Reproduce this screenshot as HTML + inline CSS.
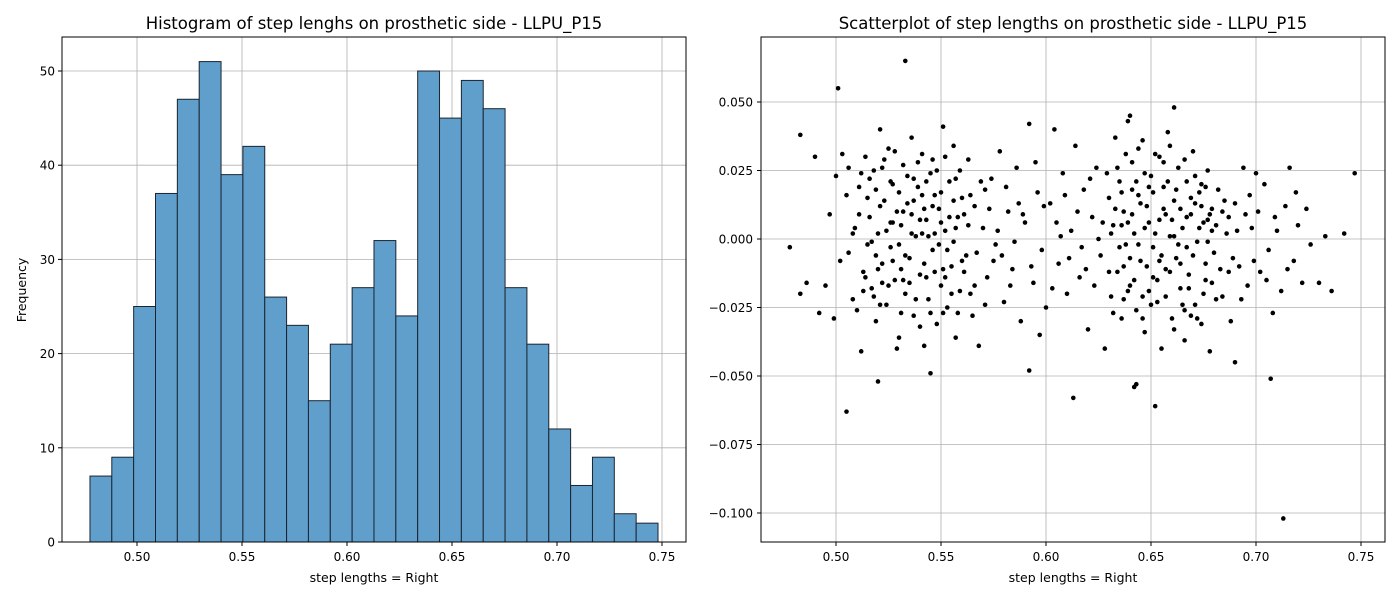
<!DOCTYPE html>
<html><head><meta charset="utf-8">
<style>
body{margin:0;background:#fff;}
svg{display:block;font-family:"DejaVu Sans","Liberation Sans",sans-serif;}
</style></head>
<body>
<svg id="fig" width="1400" height="600" viewBox="0 0 1400 600" xmlns="http://www.w3.org/2000/svg">
<rect width="1400" height="600" fill="#fff"/>
<g id="hist"></g>
<g id="scat"></g>
</svg>
<script>
const histCounts=[7,9,25,37,47,51,39,42,26,23,15,21,27,32,24,50,45,49,46,27,21,12,6,9,3,2];
const histMin=0.4776, histMax=0.7481;
const xTickLabels=["0.50","0.55","0.60","0.65","0.70","0.75"];
const xTickValues=[0.50,0.55,0.60,0.65,0.70,0.75];
const histYTicks=[0,10,20,30,40,50];
const scatYTicks=[0.05,0.025,0,-0.025,-0.05,-0.075,-0.1];
const scatYLabels=["0.050","0.025","0.000","−0.025","−0.050","−0.075","−0.100"];
const scatterPoints=[
[0.533,0.065],[0.501,0.055],[0.505,-0.063],[0.713,-0.102],[0.707,-0.051],[0.613,-0.058],[0.652,-0.061],[0.520,-0.052],[0.545,-0.049],[0.592,-0.048],[0.747,0.024],[0.478,-0.003],[0.483,0.038],[0.661,0.048],[0.640,0.045],[0.690,-0.045],[0.643,-0.053],[0.642,-0.054],
[0.483,-0.020],[0.486,-0.016],[0.490,0.030],[0.492,-0.027],[0.495,-0.017],[0.497,0.009],[0.499,-0.029],[0.500,0.023],[0.502,-0.008],[0.503,0.031],[0.505,0.016],[0.506,-0.005],[0.508,-0.022],[0.509,0.004],[0.511,0.019],[0.512,-0.041],[0.513,-0.012],[0.514,0.030],[0.516,0.008],[0.517,-0.018],[0.518,0.025],[0.519,-0.030],[0.520,0.002],[0.521,0.040],[0.522,-0.009],[0.523,0.014],[0.524,-0.024],[0.525,0.033],[0.526,-0.003],[0.527,0.020],[0.528,-0.015],[0.529,0.010],[0.530,-0.036],[0.531,0.005],[0.532,0.027],[0.533,-0.020],[0.534,0.013],[0.535,-0.007],[0.536,0.037],[0.537,-0.028],[0.538,0.001],[0.539,0.019],[0.540,-0.013],[0.541,0.031],[0.542,-0.039],[0.543,0.007],[0.544,-0.022],[0.545,0.024],[0.546,-0.004],[0.547,0.016],[0.548,-0.031],[0.549,0.011],[0.550,-0.017],[0.551,0.041],[0.552,0.003],[0.553,-0.025],[0.554,0.021],[0.555,-0.010],[0.556,0.034],[0.557,-0.036],[0.558,0.008],[0.559,-0.019],[0.560,0.015],[0.562,-0.006],[0.563,0.029],[0.565,-0.028],[0.566,0.012],[0.568,-0.039],[0.570,0.004],[0.572,-0.014],[0.574,0.022],[0.576,-0.002],[0.578,0.032],[0.580,-0.023],[0.582,0.010],[0.584,-0.011],[0.586,0.026],[0.588,-0.030],[0.590,0.006],[0.592,0.042],[0.594,-0.016],[0.596,0.017],[0.598,-0.004],
[0.600,-0.025],[0.602,0.013],[0.604,0.040],[0.606,-0.009],[0.608,0.024],[0.610,-0.020],[0.612,0.003],[0.614,0.034],[0.616,-0.014],[0.618,0.018],[0.620,-0.033],[0.622,0.008],[0.624,0.026],[0.626,-0.006],[0.628,-0.040],[0.630,0.015],[0.631,-0.021],[0.632,0.005],[0.633,0.037],[0.634,-0.012],[0.635,0.021],[0.636,-0.029],[0.637,0.010],[0.638,-0.002],[0.639,0.043],[0.640,-0.017],[0.641,0.028],[0.642,0.002],[0.643,-0.026],[0.644,0.016],[0.645,-0.008],[0.646,0.036],[0.647,-0.034],[0.648,0.012],[0.649,-0.019],[0.650,0.023],[0.651,-0.003],[0.652,0.031],[0.653,-0.023],[0.654,0.007],[0.655,-0.040],[0.656,0.019],[0.657,-0.011],[0.658,0.039],[0.659,0.001],[0.660,-0.029],[0.661,0.014],[0.662,-0.007],[0.663,0.026],[0.664,-0.018],[0.665,0.004],[0.666,-0.037],[0.667,0.021],[0.668,-0.013],[0.669,0.009],[0.670,0.032],[0.671,-0.024],[0.672,-0.001],[0.673,0.017],[0.674,-0.031],[0.675,0.006],[0.676,-0.015],[0.677,0.025],[0.678,-0.041],[0.679,0.011],[0.680,-0.005],[0.682,0.018],[0.684,-0.021],[0.686,0.002],[0.688,-0.030],[0.690,0.013],[0.692,-0.010],[0.694,0.026],[0.696,-0.017],[0.698,0.004],[0.700,0.024],[0.702,-0.012],[0.704,0.020],[0.706,-0.004],[0.708,-0.027],[0.710,0.003],[0.712,-0.019],[0.714,0.012],[0.716,0.026],[0.718,-0.008],[0.720,0.005],[0.722,-0.016],[0.724,0.011],[0.726,-0.002],[0.730,-0.016],[0.733,0.001],[0.736,-0.019],[0.742,0.002],
[0.515,-0.002],[0.522,0.026],[0.529,-0.040],[0.536,0.009],[0.543,-0.014],[0.550,0.006],[0.557,0.022],[0.564,-0.020],[0.571,0.018],[0.579,-0.006],[0.587,0.013],[0.597,-0.035],[0.607,0.001],[0.617,-0.003],[0.627,0.006],[0.637,-0.010],[0.647,0.004],[0.657,0.009],[0.667,-0.003],[0.677,0.007],[0.687,-0.012],[0.697,0.016],[0.521,0.012],[0.531,-0.011],[0.541,0.002],[0.551,-0.027],[0.561,0.009],[0.641,0.018],[0.651,-0.014],[0.661,0.001],[0.671,0.013],[0.681,-0.022],[0.526,0.006],[0.546,0.029],[0.556,-0.001],[0.636,0.005],[0.646,-0.021],[0.656,0.028],[0.666,-0.026],[0.676,-0.009],
[0.510,-0.026],[0.511,0.009],[0.512,0.024],[0.514,-0.014],[0.515,0.015],[0.517,-0.001],[0.518,-0.021],[0.519,0.018],[0.520,-0.011],[0.521,-0.024],[0.523,0.029],[0.524,0.003],[0.525,-0.017],[0.526,0.021],[0.527,-0.008],[0.528,0.032],[0.530,-0.002],[0.530,0.017],[0.531,-0.027],[0.532,0.010],[0.533,-0.006],[0.534,0.023],[0.535,-0.016],[0.536,0.002],[0.537,0.014],[0.538,-0.022],[0.539,0.028],[0.540,0.007],[0.540,-0.032],[0.541,0.016],[0.542,-0.009],[0.543,0.021],[0.544,0.001],[0.545,-0.027],[0.546,0.012],[0.547,-0.012],[0.548,0.025],[0.549,-0.002],[0.550,0.017],[0.551,-0.011],[0.552,0.030],[0.553,-0.004],[0.554,0.008],[0.555,-0.020],[0.556,0.014],[0.557,0.004],[0.558,-0.027],[0.559,0.025],[0.561,-0.012],[0.563,0.005],[0.564,0.016],[0.567,-0.005],[0.569,0.021],[0.571,-0.024],[0.573,0.011],[0.575,-0.008],[0.577,0.003],[0.581,0.019],[0.583,-0.017],[0.585,-0.001],[0.589,0.009],[0.593,-0.010],[0.595,0.028],[0.599,0.012],[0.603,-0.018],[0.605,0.006],[0.609,0.016],[0.611,-0.007],[0.615,0.010],[0.619,-0.011],[0.621,0.022],[0.623,-0.017],[0.625,0.000],[0.629,0.024],[0.630,-0.012],[0.632,-0.027],[0.633,0.011],[0.634,0.026],[0.635,-0.003],[0.636,0.017],[0.637,-0.022],[0.638,0.031],[0.639,0.006],[0.640,-0.007],[0.641,0.009],[0.642,-0.015],[0.643,0.021],[0.644,-0.002],[0.645,0.013],[0.646,-0.029],[0.647,0.024],[0.648,-0.010],[0.649,0.006],[0.650,-0.024],[0.651,0.017],[0.652,0.002],[0.653,-0.015],[0.654,0.030],[0.655,-0.006],[0.656,0.011],[0.657,-0.021],[0.658,0.021],[0.659,-0.012],[0.660,0.007],[0.661,-0.033],[0.662,0.018],[0.663,-0.002],[0.664,0.011],[0.665,-0.024],[0.666,0.029],[0.667,0.008],[0.668,-0.018],[0.669,0.015],[0.670,-0.006],[0.671,0.023],[0.672,-0.029],[0.673,0.004],[0.674,0.012],[0.675,-0.020],[0.676,0.019],[0.677,-0.001],[0.678,0.009],[0.679,-0.016],[0.681,0.005],[0.683,-0.011],[0.685,0.014],[0.687,0.008],[0.689,-0.007],[0.691,0.003],[0.693,-0.022],[0.695,0.009],[0.699,-0.008],[0.701,0.010],[0.705,-0.015],[0.709,0.008],[0.715,-0.011],[0.719,0.017],
[0.506,0.026],[0.508,0.002],[0.513,-0.019],[0.516,0.022],[0.519,-0.006],[0.522,-0.016],[0.527,0.006],[0.532,-0.015],[0.537,0.022],[0.542,0.011],[0.547,0.002],[0.552,-0.014],[0.560,-0.008],[0.566,-0.017],[0.631,0.002],[0.639,-0.019],[0.644,0.033],[0.649,0.019],[0.654,-0.008],[0.659,0.034],[0.664,-0.009],[0.669,-0.028],[0.674,0.020],[0.679,0.003],[0.684,0.010]
];
const NS="http://www.w3.org/2000/svg";
function el(tag,attrs,parent,text){const e=document.createElementNS(NS,tag);for(const k in attrs)e.setAttribute(k,attrs[k]);if(text!==undefined)e.textContent=text;parent.appendChild(e);return e;}
function xScaleH(v){return 137+(v-0.5)*2100;}
function yScaleH(v){return 542-v*9.42;}
function xScaleS(v){return 836+(v-0.5)*2100;}
function yScaleS(v){return 239-v*2740;}
const grid="#b0b0b0";
const H=document.getElementById('hist');
xTickValues.forEach((v,i)=>{const x=xScaleH(v);
 const g=el('line',{x1:x,x2:x,y1:37,y2:542,stroke:grid,'stroke-width':0.8},H);
 
 
 el('line',{x1:x,x2:x,y1:542,y2:546,stroke:'#000'},H);
 const t=el('text',{x:x,y:561,'font-size':12,'text-anchor':'middle'},H,xTickLabels[i]);
 
 });
histYTicks.forEach(v=>{const y=yScaleH(v);
 const g=el('line',{x1:62,x2:686,y1:y,y2:y,stroke:grid,'stroke-width':0.8},H);
 
 
 el('line',{x1:58,x2:62,y1:y,y2:y,stroke:'#000'},H);
 const t=el('text',{x:55,y:y+4.5,'font-size':12,'text-anchor':'end'},H,String(v));
 
 });
const bw=(histMax-histMin)/histCounts.length;
histCounts.forEach((c,i)=>{const x0=xScaleH(histMin+i*bw),x1=xScaleH(histMin+(i+1)*bw);
 const r=el('rect',{x:x0,y:yScaleH(c),width:x1-x0,height:yScaleH(0)-yScaleH(c),fill:'#609fcc',stroke:'#1a2530','stroke-width':1},H);
 
 });
el('rect',{x:62,y:37,width:624,height:505,fill:'none',stroke:'#000','stroke-width':1},H);
let t=el('text',{x:374,y:29,'font-size':16.5,'text-anchor':'middle'},H,'Histogram of step lenghs on prosthetic side - LLPU_P15');


t=el('text',{x:374,y:582,'font-size':12.5,'text-anchor':'middle'},H,'step lengths = Right');


t=el('text',{x:26,y:290,'font-size':12.5,'text-anchor':'middle',transform:'rotate(-90 26 290)'},H,'Frequency');


const S=document.getElementById('scat');
xTickValues.forEach((v,i)=>{const x=xScaleS(v);
 const g=el('line',{x1:x,x2:x,y1:37,y2:542,stroke:grid,'stroke-width':0.8},S);
 
 
 el('line',{x1:x,x2:x,y1:542,y2:546,stroke:'#000'},S);
 const t=el('text',{x:x,y:561,'font-size':12,'text-anchor':'middle'},S,xTickLabels[i]);
 
 });
scatYTicks.forEach((v,i)=>{const y=yScaleS(v);
 const g=el('line',{x1:761,x2:1385,y1:y,y2:y,stroke:grid,'stroke-width':0.8},S);
 
 
 el('line',{x1:757,x2:761,y1:y,y2:y,stroke:'#000'},S);
 const t=el('text',{x:753,y:y+4.5,'font-size':12,'text-anchor':'end'},S,scatYLabels[i]);
 
 });
scatterPoints.forEach(p=>{const c=el('circle',{cx:xScaleS(p[0]),cy:yScaleS(p[1]),r:2.3,fill:'#000'},S);
 
 });
el('rect',{x:761,y:37,width:624,height:505,fill:'none',stroke:'#000','stroke-width':1},S);
t=el('text',{x:1073,y:29,'font-size':16.5,'text-anchor':'middle'},S,'Scatterplot of step lengths on prosthetic side - LLPU_P15');


t=el('text',{x:1073,y:582,'font-size':12.5,'text-anchor':'middle'},S,'step lengths = Right');


</script>
</body></html>
